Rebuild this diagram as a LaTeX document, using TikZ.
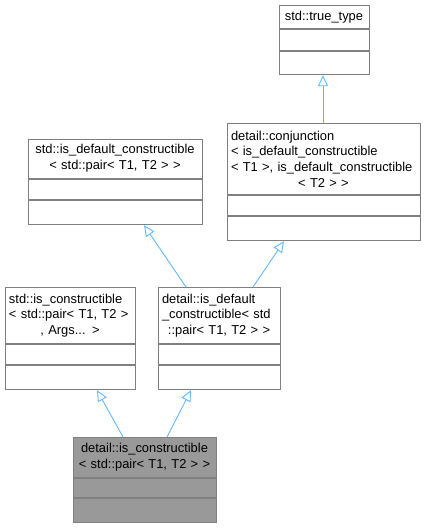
\documentclass[tikz,border=0pt]{standalone}
\usepackage{fontspec}
\setmainfont{Liberation Sans}
\usetikzlibrary{arrows.meta,calc}
\definecolor{edgeblue}{HTML}{63B8FF}
\definecolor{boxline}{HTML}{808080}
\definecolor{darkfill}{HTML}{999999}
\tikzset{
  classbox/.style={draw=boxline, line width=1.2pt, rectangle, inner sep=0pt},
  divider/.style={draw=boxline, line width=1.2pt},
  headtext/.style={inner sep=0pt, align=left, font=\fontsize{12.9}{15.7}\selectfont},
  inherit/.style={draw=edgeblue, line width=0.9pt, -{Triangle[open, length=11pt, width=10pt, fill=white]}},
}
\newcommand\umlbox[8]{%
  \node[classbox, fill=#8, minimum width=#4pt, minimum height=#5pt, anchor=north west] (#1) at (#2,#3) {};
  \draw[divider] ([yshift=-#6pt]#1.north west) -- ([yshift=-#6pt]#1.north east);
  \draw[divider] ([yshift=-#7pt]#1.north west) -- ([yshift=-#7pt]#1.north east);
}
\newcommand\ctr[1]{\makebox[\linewidth]{#1}}
\begin{document}
\begin{tikzpicture}[x=1pt,y=-1pt]
\useasboundingbox (0,0) rectangle (426,528);
\umlbox{c1}{279}{5}{90}{69}{24}{46}{white}
\umlbox{c2}{28}{139}{174}{85}{40}{61}{white}
\umlbox{c3}{227}{123}{193}{117}{72}{93}{white}
\umlbox{c4}{5}{287}{130}{102}{57}{78}{white}
\umlbox{c5}{158}{287}{122}{102}{57}{78}{white}
\umlbox{c6}{73}{437}{143}{85}{41}{61}{darkfill}
\node[headtext, text width=84pt, align=center] (c1h) at (324,17) {std::true\_type};
\node[headtext, text width=170pt, align=center] (c2h) at (115,159) {std::is\_default\_constructible\\\strut{}< std::pair< T1, T2 > >};
\node[headtext, text width=185pt] (c3h) at (323.5,159) {detail::conjunction\\< is\_default\_constructible\\< T1 >, is\_default\_constructible\\\ctr{< T2 > >}};
\node[headtext, text width=122pt] (c4h) at (70,315.5) {std::is\_constructible\\< std::pair< T1, T2 >\\\ctr{, Args... >}};
\node[headtext, text width=114pt] (c5h) at (219,315.5) {detail::is\_default\\\_constructible< std\\\ctr{::pair< T1, T2 > >}};
\node[headtext, text width=137pt, align=center] (c6h) at (144.5,457.5) {detail::is\_constructible\\< std::pair< T1, T2 > >};
\draw[inherit] ([xshift=96pt]c3.north west) -- ([xshift=44pt]c1.south west);
\draw[inherit] ([xshift=28pt]c5.north west) -- ([xshift=116pt]c2.south west);
\draw[inherit] ([xshift=95pt]c5.north west) -- ([xshift=57pt]c3.south west);
\draw[inherit] ([xshift=50pt]c6.north west) -- ([xshift=92pt]c4.south west);
\draw[inherit] ([xshift=94pt]c6.north west) -- ([xshift=33pt]c5.south west);
\end{tikzpicture}
\end{document}
